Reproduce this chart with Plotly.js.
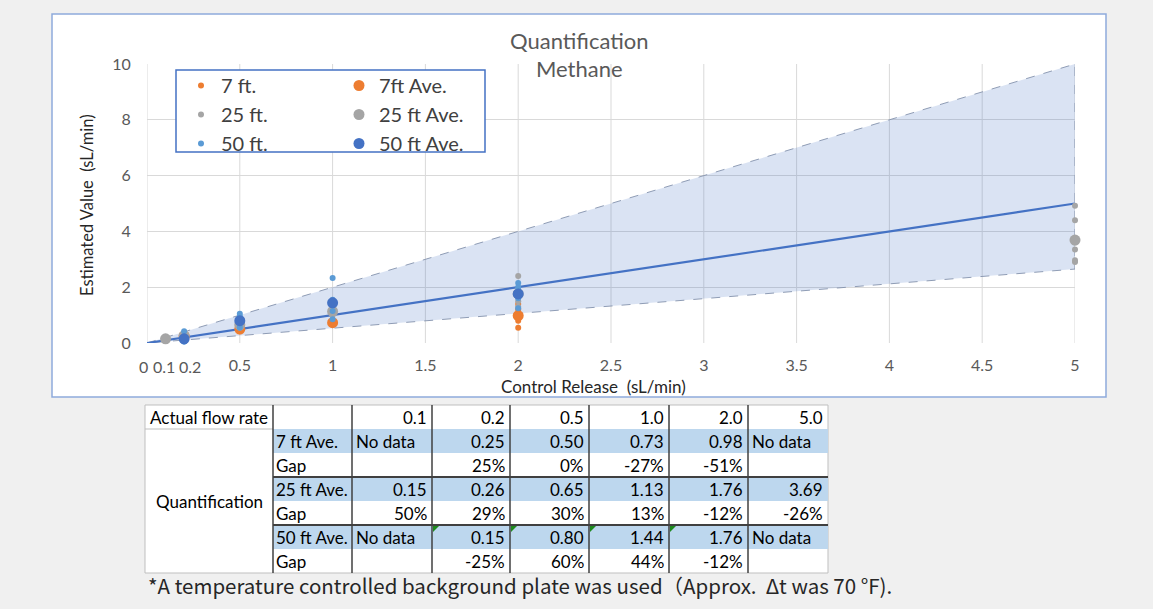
<!DOCTYPE html>
<html><head><meta charset="utf-8">
<script src="https://cdn.plot.ly/plotly-3.0.1.min.js"></script>
<style>html,body{margin:0;padding:0;background:#f0f0f0;}#chart{width:1153px;height:609px;}</style>
</head><body><div id="chart"></div>
<script>
// ---------------- data ----------------
const flowRates = [0.1, 0.2, 0.5, 1.0, 2.0, 5.0];
const ave7  = [null, 0.25, 0.50, 0.73, 0.98, null];
const gap7  = [null, 25, 0, -27, -51, null];
const ave25 = [0.15, 0.26, 0.65, 1.13, 1.76, 3.69];
const gap25 = [50, 29, 30, 13, -12, -26];
const ave50 = [null, 0.15, 0.80, 1.44, 1.76, null];
const gap50 = [null, -25, 60, 44, -12, null];

const pts7x  = [0.2,0.2, 0.5,0.5,0.5, 1,1,1, 2,2,2,2,2,2,2];
const pts7y  = [0.22,0.28, 0.42,0.50,0.58, 0.68,0.73,0.78, 1.40,1.20,1.05,0.95,0.90,0.80,0.55];
const pts25x = [0.1,0.1, 0.2,0.2, 0.5,0.5,0.5, 1,1,1,1, 2,2,2,2,2, 5,5,5,5,5,5];
const pts25y = [0.10,0.20, 0.22,0.30, 0.55,0.65,0.75, 1.30,1.15,1.05,1.00, 2.40,1.90,1.70,1.50,1.30, 4.92,4.40,3.60,3.35,2.97,2.90];
const pts50x = [0.2,0.2,0.2,0.2,0.2, 0.5,0.5,0.5,0.5,0.5,0.5, 1,1,1,1,1,1,1, 2,2,2,2,2];
const pts50y = [0.42,0.15,0.08,0.05,0.05, 1.05,0.95,0.85,0.75,0.65,0.55, 2.33,1.55,1.45,1.40,1.35,1.15,0.85, 2.15,2.00,1.80,1.60,1.25];

const refX = [0, 5];
const refY = [0, 5];
const bandX = [0, 5, 5, 0];
const bandY = [0, 10, 2.65, 0];

const xTickVals = [0, 0.1, 0.2, 0.5, 1, 1.5, 2, 2.5, 3, 3.5, 4, 4.5, 5];
const xTickText = ['0', '0.1', '0.2', '0.5', '1', '1.5', '2', '2.5', '3', '3.5', '4', '4.5', '5'];
const xGridVals = [0, 0.5, 1, 1.5, 2, 2.5, 3, 3.5, 4, 4.5, 5];
const yTickVals = [0, 2, 4, 6, 8, 10];

const titleLines = ['Quantification', 'Methane'];
const xTitle = 'Control Release  (sL/min)';
const yTitle = 'Estimated Value  (sL/min)';
const footnote = '*A temperature controlled background plate was used（Approx.  Δt was 70 °F).';

const tableHeaderLabel = 'Actual flow rate';
const tableGroupLabel = 'Quantification';
const tableRows = [
  {label: '7 ft Ave.',  vals: ave7,  kind: 'ave'},
  {label: 'Gap',        vals: gap7,  kind: 'gap'},
  {label: '25 ft Ave.', vals: ave25, kind: 'ave'},
  {label: 'Gap',        vals: gap25, kind: 'gap'},
  {label: '50 ft Ave.', vals: ave50, kind: 'ave'},
  {label: 'Gap',        vals: gap50, kind: 'gap'}
];
const flaggedCells = [[4, 1], [4, 2], [4, 3], [4, 4]]; // [row, valueColumn]

// ---------------- layout geometry ----------------
const FONT = 'Lato, "Liberation Sans", sans-serif';
const PL = 147, PT = 64, PW = 928, PH = 279;
const px = x => (x - PL) / PW;
const py = y => (PT + PH - y) / PH;
const colX = [145, 273, 352, 432, 510, 589, 669, 748, 828];
const rowY = [405, 429, 453, 477, 501, 525, 549, 573];
const crowdedTickShift = [-4, -2, 6]; // pixel nudges for the first three crowded x labels

const C_OR = '#ed7d31', C_GR = '#a5a5a5', C_LB = '#5b9bd5', C_DB = '#4472c4';

// ---------------- traces ----------------
const traces = [
  {x: bandX, y: bandY, mode: 'lines', fill: 'toself', fillcolor: 'rgba(68,114,196,0.2)',
   line: {color: '#8392ad', width: 0.9, dash: 'dash'}, showlegend: false, hoverinfo: 'skip'},
  {x: refX, y: refY, mode: 'lines', line: {color: C_DB, width: 2.2}, showlegend: false, hoverinfo: 'skip'},
  {x: pts7x, y: pts7y, mode: 'markers', name: '7 ft.', legend: 'legend', marker: {color: C_OR, size: 6}, cliponaxis: false},
  {x: flowRates, y: ave7, mode: 'markers', name: '7ft Ave.', legend: 'legend2', marker: {color: C_OR, size: 11}, cliponaxis: false},
  {x: pts25x, y: pts25y, mode: 'markers', name: '25 ft.', legend: 'legend', marker: {color: C_GR, size: 6}, cliponaxis: false},
  {x: flowRates, y: ave25, mode: 'markers', name: '25 ft Ave.', legend: 'legend2', marker: {color: C_GR, size: 11}, cliponaxis: false},
  {x: pts50x, y: pts50y, mode: 'markers', name: '50 ft.', legend: 'legend', marker: {color: C_LB, size: 6}, cliponaxis: false},
  {x: flowRates, y: ave50, mode: 'markers', name: '50 ft Ave.', legend: 'legend2', marker: {color: C_DB, size: 11}, cliponaxis: false}
];

// ---------------- shapes & annotations ----------------
const shapes = [];
const annotations = [];
function rectPx(x0, y0, x1, y1, fill, line, layer) {
  shapes.push({type: 'rect', xref: 'paper', yref: 'paper', x0: px(x0), x1: px(x1), y0: py(y1), y1: py(y0),
    fillcolor: fill, line: line || {width: 0}, layer: layer || 'below'});
}
function linePx(x0, y0, x1, y1, color, width) {
  shapes.push({type: 'line', xref: 'paper', yref: 'paper', x0: px(x0), x1: px(x1), y0: py(y0), y1: py(y1),
    line: {color: color, width: width}, layer: 'above'});
}
function textPx(x, y, text, anchor, opts) {
  opts = opts || {};
  annotations.push({xref: 'paper', yref: 'paper', x: px(x), y: py(y), text: text, showarrow: false,
    xanchor: anchor, yanchor: 'middle', textangle: opts.angle || 0,
    font: {family: opts.family || FONT, size: opts.size || 17, color: opts.color || '#000000'}});
}

// chart box
rectPx(52, 14, 1106, 397, '#ffffff', {color: '#8eaadb', width: 1.5}, 'below');
// vertical grid
xGridVals.forEach(v => shapes.push({type: 'line', xref: 'x', yref: 'paper', x0: v, x1: v, y0: 0, y1: 1,
  line: {color: '#d9d9d9', width: 1}, layer: 'below'}));
// legend box
rectPx(176, 70, 485, 152, '#ffffff', {color: C_DB, width: 1.5}, 'above');

// titles
titleLines.forEach((t, i) => textPx(579, 40 + i * 28, t, 'center', {size: 22, color: '#595959'}));
textPx(593, 386, xTitle, 'center', {size: 17, color: '#262626'});
textPx(87, 205, yTitle, 'center', {size: 16.5, color: '#262626', angle: -90});

// crowded x tick labels (0, 0.1, 0.2) placed on the x scale with small nudges
[0, 1, 2].forEach(i => annotations.push({xref: 'x', yref: 'paper', x: xTickVals[i], y: py(366), xshift: crowdedTickShift[i],
  text: xTickText[i], showarrow: false, xanchor: 'center', yanchor: 'middle',
  font: {family: FONT, size: 16, color: '#595959'}}));
const axisTickText = xTickText.map((t, i) => i < 3 ? '' : t);

// table
rectPx(colX[0], rowY[0], colX[8], rowY[7], '#ffffff', {color: '#bfbfbf', width: 1}, 'above');
tableRows.forEach((r, i) => {
  if (r.kind === 'ave') rectPx(colX[1], rowY[i + 1], colX[8], rowY[i + 2], '#bdd7ee', null, 'above');
});
linePx(colX[0], rowY[1], colX[1], rowY[1], '#bfbfbf', 1);
for (let c = 1; c <= 7; c++) linePx(colX[c], rowY[0], colX[c], rowY[7], '#404040', 1.5);
[3, 5].forEach(r => linePx(colX[1], rowY[r], colX[8], rowY[r], '#404040', 1.8));
flaggedCells.forEach(([r, c]) => {
  const x0 = colX[c + 2] + 1, y0 = rowY[r + 1] + 1;
  shapes.push({type: 'path', xref: 'paper', yref: 'paper', layer: 'above',
    path: `M ${px(x0)} ${py(y0)} L ${px(x0 + 6)} ${py(y0)} L ${px(x0)} ${py(y0 + 6)} Z`,
    fillcolor: '#1e8a1e', line: {width: 0}});
});
const midRow = k => (rowY[k] + rowY[k + 1]) / 2;
textPx(colX[0] + 3, midRow(0), tableHeaderLabel, 'left');
flowRates.forEach((v, j) => textPx(colX[j + 3] - 3, midRow(0), v.toFixed(1), 'right'));
textPx((colX[0] + colX[1]) / 2, (rowY[1] + rowY[7]) / 2, tableGroupLabel, 'center');
tableRows.forEach((r, i) => {
  textPx(colX[1] + 1, midRow(i + 1), r.label, 'left');
  r.vals.forEach((v, j) => {
    if (v === null) {
      if (r.kind === 'ave') textPx(colX[j + 2] + 2, midRow(i + 1), 'No data', 'left');
    } else {
      const s = r.kind === 'ave' ? v.toFixed(2) : v + '%';
      textPx(colX[j + 3] - 3, midRow(i + 1), s, 'right');
    }
  });
});
// footnote
textPx(146, 585, footnote, 'left', {size: 20.5, color: '#262626', family: '"Noto Sans CJK JP", sans-serif'});

const legendBase = {xanchor: 'left', yanchor: 'top', bgcolor: 'rgba(0,0,0,0)', borderwidth: 0,
  font: {family: FONT, size: 20, color: '#404040'}, tracegroupgap: 0, itemclick: false, itemdoubleclick: false};

const layout = {
  width: 1153, height: 609,
  margin: {l: PL, r: 1153 - PL - PW, t: PT, b: 609 - PT - PH, pad: 0},
  paper_bgcolor: '#f0f0f0', plot_bgcolor: 'rgba(0,0,0,0)',
  showlegend: true,
  legend: Object.assign({x: px(181), y: py(66)}, legendBase),
  legend2: Object.assign({x: px(339), y: py(66)}, legendBase),
  xaxis: {range: [0, 5], tickvals: xTickVals, ticktext: axisTickText, tickangle: 0, showgrid: false, zeroline: false,
    showline: false, ticks: 'outside', ticklen: 8, tickcolor: 'rgba(0,0,0,0)',
    tickfont: {family: FONT, size: 16, color: '#595959'}, fixedrange: true},
  yaxis: {range: [0, 10], tickvals: yTickVals, showgrid: true, gridcolor: '#d9d9d9', gridwidth: 1, zeroline: false,
    showline: false, ticks: 'outside', ticklen: 12, tickcolor: 'rgba(0,0,0,0)',
    tickfont: {family: FONT, size: 16, color: '#595959'}, fixedrange: true},
  shapes: shapes,
  annotations: annotations
};

Plotly.newPlot('chart', traces, layout, {staticPlot: true, displayModeBar: false});
</script></body></html>
